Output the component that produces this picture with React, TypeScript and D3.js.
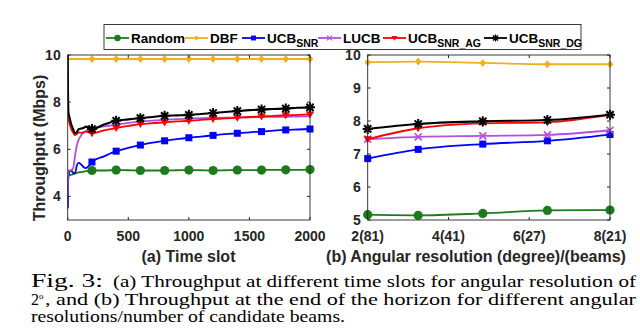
import React from "react";
import * as d3 from "d3";

// (a) throughput vs time slot, angular resolution 2 deg
const slots = [0, 5, 15, 30, 45, 60, 75, 90, 110, 130, 150, 175, 200, 300, 400, 500, 600, 700, 800, 900, 1000, 1100, 1200, 1300, 1400, 1500, 1600, 1700, 1800, 1900, 2000];
const randomA = [3.5, 4.85, 4.9, 4.92, 4.95, 4.97, 5.0, 5.02, 5.03, 5.05, 5.07, 5.08, 5.1, 5.1, 5.12, 5.11, 5.1, 5.1, 5.1, 5.11, 5.12, 5.11, 5.1, 5.11, 5.12, 5.12, 5.12, 5.13, 5.13, 5.13, 5.14];
const dbfA = [9.83, 9.83, 9.83, 9.83, 9.83, 9.83, 9.83, 9.83, 9.83, 9.83, 9.83, 9.83, 9.83, 9.83, 9.83, 9.83, 9.83, 9.83, 9.83, 9.83, 9.83, 9.83, 9.83, 9.83, 9.83, 9.83, 9.83, 9.83, 9.83, 9.83, 9.83];
const ucbA = [3.5, 4.8, 5.05, 5.1, 5.0, 4.98, 5.3, 5.42, 5.36, 5.25, 5.2, 5.3, 5.46, 5.7, 5.92, 6.06, 6.18, 6.28, 6.36, 6.43, 6.49, 6.54, 6.59, 6.64, 6.68, 6.72, 6.75, 6.79, 6.82, 6.84, 6.86];
const lucbA = [4.0, 5.1, 5.1, 5.12, 5.2, 5.7, 6.15, 6.4, 6.58, 6.7, 6.78, 6.84, 6.88, 6.97, 7.04, 7.12, 7.18, 7.22, 7.25, 7.28, 7.3, 7.32, 7.33, 7.34, 7.34, 7.36, 7.37, 7.38, 7.38, 7.39, 7.4];
const agA = [10, 7.4, 7.1, 6.85, 6.7, 6.6, 6.65, 6.72, 6.7, 6.72, 6.75, 6.72, 6.68, 6.8, 6.9, 6.99, 7.07, 7.11, 7.14, 7.18, 7.21, 7.25, 7.28, 7.31, 7.34, 7.37, 7.39, 7.42, 7.44, 7.46, 7.48];
const dgA = [10, 7.6, 7.35, 7.05, 6.85, 6.68, 6.72, 6.85, 6.88, 6.9, 6.96, 6.92, 6.86, 7.05, 7.21, 7.27, 7.32, 7.37, 7.42, 7.44, 7.46, 7.5, 7.54, 7.58, 7.62, 7.66, 7.69, 7.71, 7.73, 7.76, 7.78];
const markerSlots = [200, 400, 600, 800, 1000, 1200, 1400, 1600, 1800, 2000];
const slotTicks = [0, 500, 1000, 1500, 2000];
const tpTicksA = [4, 6, 8, 10];

// (b) throughput at end of horizon vs angular resolution
const resolutions = [2, 3.25, 4.85, 6.45, 8];
const resTicks = [2, 4, 6, 8];
const resTickLabels = ["2(81)", "4(41)", "6(27)", "8(21)"];
const tpTicksB = [5, 6, 7, 8, 9, 10];
const randomB = [5.16, 5.14, 5.2, 5.29, 5.3];
const dbfB = [9.78, 9.8, 9.76, 9.72, 9.72];
const ucbB = [6.86, 7.14, 7.3, 7.4, 7.59];
const lucbB = [7.45, 7.52, 7.55, 7.58, 7.72];
const agB = [7.45, 7.78, 7.93, 7.96, 8.19];
const dgB = [7.76, 7.91, 7.99, 8.03, 8.19];

type Marker = "circle" | "diamond" | "square" | "x" | "tri" | "star";
const series = [
  { name: "Random", sub: "", color: "#1c7c1c", marker: "circle" as Marker, a: randomA, b: randomB, markA: true },
  { name: "DBF", sub: "", color: "#edb120", marker: "diamond" as Marker, a: dbfA, b: dbfB, markA: true },
  { name: "UCB", sub: "SNR", color: "#0000ff", marker: "square" as Marker, a: ucbA, b: ucbB, markA: true },
  { name: "LUCB", sub: "", color: "#b54ee0", marker: "x" as Marker, a: lucbA, b: lucbB, markA: false },
  { name: "UCB", sub: "SNR_AG", color: "#ff0000", marker: "tri" as Marker, a: agA, b: agB, markA: true },
  { name: "UCB", sub: "SNR_DG", color: "#000000", marker: "star" as Marker, a: dgA, b: dgB, markA: true },
];
const legendX = [106, 185, 242, 318, 383, 484];

const axisColor = "#262626";
const sans = "Liberation Sans, Arial, sans-serif";
const serif = "Liberation Serif, Times New Roman, serif";

function MarkerGlyph({ kind, x, y, color, s = 1 }: { kind: Marker; x: number; y: number; color: string; s?: number }) {
  const t = `translate(${x},${y}) scale(${s})`;
  if (kind === "circle") return <circle transform={t} r={4.6} fill={color} />;
  if (kind === "diamond") return <path transform={t} d="M0,-4L3.2,0L0,4L-3.2,0Z" fill={color} />;
  if (kind === "square") return <rect transform={t} x={-3.5} y={-3.5} width={7} height={7} fill={color} />;
  if (kind === "tri") return <path transform={t} d="M-4.2,-3L4.2,-3L0,4Z" fill={color} />;
  if (kind === "x")
    return <path transform={t} d="M-3.5,-3.5L3.5,3.5M-3.5,3.5L3.5,-3.5" stroke={color} strokeWidth={1.6} fill="none" />;
  return (
    <g transform={t}>
      <path d="M-5,0L5,0M0,-5L0,5M-3.6,-3.6L3.6,3.6M-3.6,3.6L3.6,-3.6" stroke={color} strokeWidth={2} />
      <circle r={2.6} fill={color} />
    </g>
  );
}

function Frame({ x, y, ticksX, ticksY, labelsX, labelsY }: any) {
  const [x0, x1] = x.range();
  const [y0, y1] = y.range();
  return (
    <g>
      <rect x={x0} y={y1} width={x1 - x0} height={y0 - y1} fill="none" stroke={axisColor} strokeWidth={0.9} />
      {ticksX.map((t: number, i: number) => (
        <g key={"x" + i}>
          <line x1={x(t)} x2={x(t)} y1={y0} y2={y0 - 3} stroke={axisColor} />
          <line x1={x(t)} x2={x(t)} y1={y1} y2={y1 + 3} stroke={axisColor} />
          <text x={x(t)} y={241} textAnchor="middle" fontSize={14} fontWeight="bold" fill={axisColor} fontFamily={sans}>
            {labelsX[i]}
          </text>
        </g>
      ))}
      {ticksY.map((t: number, i: number) => (
        <g key={"y" + i}>
          <line x1={x0} x2={x0 + 3} y1={y(t)} y2={y(t)} stroke={axisColor} />
          <line x1={x1} x2={x1 - 3} y1={y(t)} y2={y(t)} stroke={axisColor} />
          <text x={x0 - 7} y={y(t) + 5} textAnchor="end" fontSize={14} fontWeight="bold" fill={axisColor} fontFamily={sans}>
            {labelsY[i]}
          </text>
        </g>
      ))}
    </g>
  );
}

export default function App() {
  const xA = d3.scaleLinear().domain([0, 2000]).range([67.7, 310]);
  const yA = d3.scaleLinear().domain([3, 10]).range([220, 55]);
  const xB = d3.scaleLinear().domain([2, 8]).range([367.7, 610]);
  const yB = d3.scaleLinear().domain([5, 10]).range([220, 55]);

  const lineA = d3
    .line<number>()
    .x((_, i) => xA(slots[i]))
    .y((d) => yA(d))
    .curve(d3.curveMonotoneX);
  const lineB = d3
    .line<number>()
    .x((_, i) => xB(resolutions[i]))
    .y((d) => yB(d))
    .curve(d3.curveMonotoneX);

  return (
    <svg width={640} height={335} style={{ position: "absolute", left: 0, top: 0, background: "#fff" }}>
      <defs>
        <clipPath id="clipA">
          <rect x={67.7} y={54} width={242.3} height={166} />
        </clipPath>
      </defs>

      {/* panel (a) */}
      <g clipPath="url(#clipA)">
        {series.map((s) => (
          <path key={"la" + s.color} d={lineA(s.a) || ""} fill="none" stroke={s.color} strokeWidth={s.color === "#000000" ? 2.1 : 1.8} />
        ))}
      </g>
      {series.map((s) =>
        s.markA
          ? slots.map((t, i) =>
              markerSlots.includes(t) ? (
                <MarkerGlyph key={"ma" + s.color + t} kind={s.marker} x={xA(t)} y={yA(s.a[i])} color={s.color} />
              ) : null
            )
          : null
      )}
      <Frame x={xA} y={yA} ticksX={slotTicks} ticksY={tpTicksA} labelsX={slotTicks.map(String)} labelsY={tpTicksA.map(String)} />
      <text transform="translate(45,148) rotate(-90)" textAnchor="middle" fontSize={16} fontWeight="bold" fill={axisColor} fontFamily={sans}>
        Throughput (Mbps)
      </text>
      <text x={188.5} y={262} textAnchor="middle" fontSize={16} fontWeight="bold" fill={axisColor} fontFamily={sans}>
        (a) Time slot
      </text>

      {/* panel (b) */}
      {series.map((s) => (
        <g key={"b" + s.color}>
          <path d={lineB(s.b) || ""} fill="none" stroke={s.color} strokeWidth={s.color === "#000000" ? 2.1 : 1.8} />
          {s.b.map((v, i) => (
            <MarkerGlyph key={i} kind={s.marker} x={xB(resolutions[i])} y={yB(v)} color={s.color} />
          ))}
        </g>
      ))}
      <Frame x={xB} y={yB} ticksX={resTicks} ticksY={tpTicksB} labelsX={resTickLabels} labelsY={tpTicksB.map(String)} />
      <text x={476} y={262} textAnchor="middle" fontSize={16} fontWeight="bold" fill={axisColor} fontFamily={sans}>
        (b) Angular resolution (degree)/(beams)
      </text>

      {/* legend */}
      <rect x={104} y={24.5} width={477} height={25} fill="#fff" stroke={axisColor} strokeWidth={0.9} />
      {series.map((s, i) => (
        <g key={"lg" + i}>
          <line x1={legendX[i]} x2={legendX[i] + 23} y1={38} y2={38} stroke={s.color} strokeWidth={1.8} />
          <MarkerGlyph kind={s.marker} x={legendX[i] + 11.5} y={38} color={s.color} s={0.7} />
          <text x={legendX[i] + 25} y={43} fontSize={13.5} fontWeight="bold" fill="#000" fontFamily={sans}>
            {s.name}
            {s.sub ? (
              <tspan dy={4} fontSize={10.5}>
                {s.sub}
              </tspan>
            ) : null}
          </text>
        </g>
      ))}

      {/* caption */}
      <g fontFamily={serif} fill="#000">
        <text x={31} y={286.5} fontSize={18} textLength={72} lengthAdjust="spacingAndGlyphs">
          Fig. 3:
        </text>
        <text x={113} y={286.5} fontSize={16} textLength={523} lengthAdjust="spacingAndGlyphs">
          (a) Throughput at different time slots for angular resolution of
        </text>
        <text x={31} y={304.5} fontSize={16}>
          2<tspan dy={-6} fontSize={9}>o</tspan>
        </text>
        <text x={45} y={304.5} fontSize={16} textLength={591} lengthAdjust="spacingAndGlyphs">
          , and (b) Throughput at the end of the horizon for different angular
        </text>
        <text x={31} y={322} fontSize={16} textLength={314} lengthAdjust="spacingAndGlyphs">
          resolutions/number of candidate beams.
        </text>
      </g>
    </svg>
  );
}
